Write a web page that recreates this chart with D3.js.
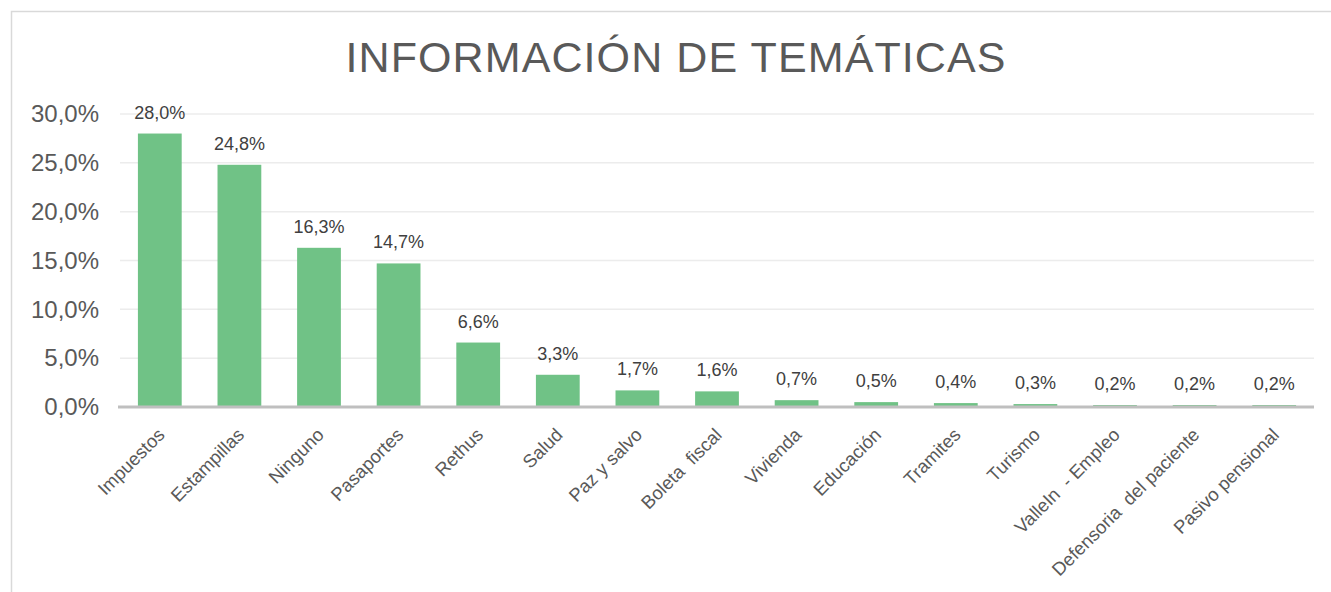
<!DOCTYPE html>
<html><head><meta charset="utf-8">
<script src="https://cdn.jsdelivr.net/npm/d3@7"></script>
<style>body{margin:0;background:#fff;} svg{display:block;font-family:"Liberation Sans",Arial,sans-serif;}</style>
</head><body>
<svg id="c" width="1331" height="592"></svg>
<script>
const categories = ["Impuestos","Estampillas","Ninguno","Pasaportes","Rethus","Salud","Paz y salvo","Boleta  fiscal","Vivienda","Educación","Tramites","Turismo","ValleIn  - Empleo","Defensoria  del paciente","Pasivo pensional"];
const values = [28.0,24.8,16.3,14.7,6.6,3.3,1.7,1.6,0.7,0.5,0.4,0.3,0.2,0.2,0.2];
const yTicks = [0,5,10,15,20,25,30];
const title = "INFORMACIÓN DE TEMÁTICAS";

const svg = d3.select("#c");
const fmt = v => v.toFixed(1).replace(".", ",") + "%";

// frame
svg.append("rect").attr("x",11.5).attr("y",11.5).attr("width",1340).attr("height",600)
  .attr("fill","#fff").attr("stroke","#d9d9d9").attr("stroke-width",1.5);

const x = d3.scaleBand().domain(categories).range([120,1314]).paddingInner(0.45).paddingOuter(0.225);
const y = d3.scaleLinear().domain([0,30]).range([407,114]);

// grid
svg.append("g").selectAll("line").data(yTicks.filter(t=>t>0)).join("line")
  .attr("x1",120).attr("x2",1314).attr("y1",d=>y(d)).attr("y2",d=>y(d))
  .attr("stroke","#ececec").attr("stroke-width",1.5);

// y axis labels
const ya = svg.append("g").attr("transform","translate(99,0)")
  .call(d3.axisLeft(y).tickValues(yTicks).tickFormat(fmt).tickSize(0).tickPadding(0));
ya.select(".domain").remove();
ya.selectAll("text").attr("font-size",24).attr("fill","#595959").attr("font-family","Liberation Sans, Arial, sans-serif");

// bars
svg.append("g").selectAll("rect").data(values).join("rect")
  .attr("x",(d,i)=>x(categories[i])).attr("width",x.bandwidth())
  .attr("y",d=>y(d)).attr("height",d=>y(0)-y(d)).attr("fill","#70c286");

// x axis
const xa = svg.append("g").attr("transform","translate(0,407)")
  .call(d3.axisBottom(x).tickSize(0).tickPadding(0));
xa.select(".domain").attr("stroke","#bfbfbf").attr("stroke-width",3).attr("d","M118,0H1314");
xa.selectAll("text").attr("font-size",18.5).attr("fill","#595959")
  .attr("font-family","Liberation Sans, Arial, sans-serif")
  .attr("text-anchor","end").attr("dy",0)
  .attr("transform","translate(6,29) rotate(-45)")
  .style("white-space","pre").attr("xml:space","preserve");

// data labels
svg.append("g").selectAll("text").data(values).join("text")
  .attr("x",(d,i)=>x(categories[i])+x.bandwidth()/2).attr("y",d=>y(d)-15)
  .attr("text-anchor","middle").attr("font-size",18).attr("fill","#404040")
  .text(fmt);

// title
svg.append("text").attr("x",676).attr("y",72).attr("text-anchor","middle")
  .attr("font-size",43).attr("letter-spacing",1.1).attr("fill","#595959").text(title);
</script>
</body></html>
